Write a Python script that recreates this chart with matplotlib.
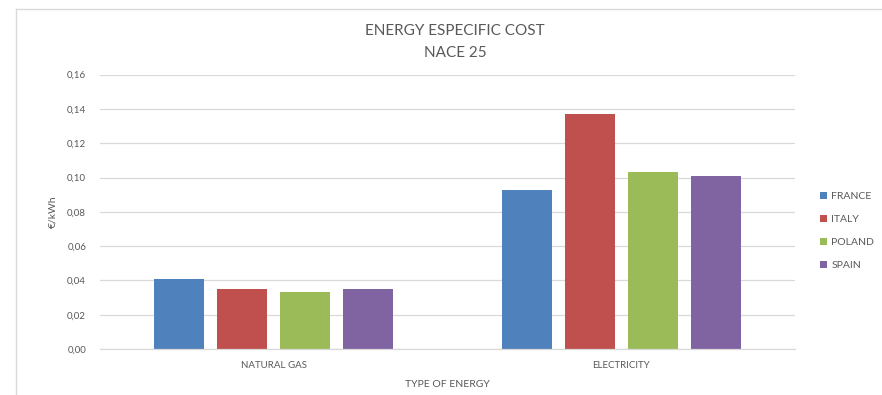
import numpy as np
import matplotlib
matplotlib.use("Agg")
import matplotlib.pyplot as plt
from matplotlib.lines import Line2D

energy_types = ["NATURAL GAS", "ELECTRICITY"]
countries = ["FRANCE", "ITALY", "POLAND", "SPAIN"]
france = [0.041, 0.093]
italy = [0.035, 0.137]
poland = [0.033, 0.103]
spain = [0.035, 0.101]
yticks = [0.00, 0.02, 0.04, 0.06, 0.08, 0.10, 0.12, 0.14, 0.16]

colors = ["#4F81BD", "#C0504D", "#9BBB59", "#8064A2"]
text_color = "#595959"

plt.rcParams["font.family"] = ["Lato", "DejaVu Sans"]

fig = plt.figure(figsize=(8.82, 3.95), dpi=100)
ax = fig.add_axes([0.1134, 0.1165, 0.788, 0.6945])

x = np.arange(len(energy_types))
step = 0.181
width = 0.144
for i, (name, vals) in enumerate(zip(countries, [france, italy, poland, spain])):
    ax.bar(x + (i - 1.5) * step, vals, width, color=colors[i], label=name)

ax.set_xlim(-0.5, 1.5)
ax.set_ylim(0, 0.16)
ax.set_yticks(yticks)
ax.set_yticklabels([f"{v:.2f}".replace(".", ",") for v in yticks])
ax.set_xticks(x)
ax.set_xticklabels(energy_types)
ax.tick_params(axis="both", length=0, labelsize=7, colors=text_color)
ax.tick_params(axis="y", pad=10)
ax.tick_params(axis="x", pad=9)
ax.yaxis.grid(True, color="#D9D9D9", linewidth=0.9)
ax.set_axisbelow(True)
for side in ["top", "right", "left"]:
    ax.spines[side].set_visible(False)
ax.spines["bottom"].set_color("#D9D9D9")
ax.spines["bottom"].set_linewidth(0.9)

ax.set_xlabel("TYPE OF ENERGY", fontsize=7.5, color=text_color, labelpad=7)
ax.set_ylabel("€/kWh", fontsize=7.5, color=text_color, labelpad=7)

fig.text(0.516, 0.922, "ENERGY ESPECIFIC COST", ha="center", va="center",
         fontsize=11, color=text_color)
fig.text(0.516, 0.866, "NACE 25", ha="center", va="center",
         fontsize=11, color=text_color)

fig.legend(loc="center left", bbox_to_anchor=(0.925, 0.415), frameon=False,
           fontsize=7.5, labelcolor=text_color, handlelength=0.7, handleheight=0.7,
           handletextpad=0.4, labelspacing=1.3, borderaxespad=0)

# outer chart frame
fig.add_artist(Line2D([16 / 882, 16 / 882], [0, 1 - 9 / 395],
                      transform=fig.transFigure, color="#D9D9D9", linewidth=1))
fig.add_artist(Line2D([16 / 882, 1], [1 - 9 / 395, 1 - 9 / 395],
                      transform=fig.transFigure, color="#D9D9D9", linewidth=1))

fig.savefig("out.png", dpi=100)
